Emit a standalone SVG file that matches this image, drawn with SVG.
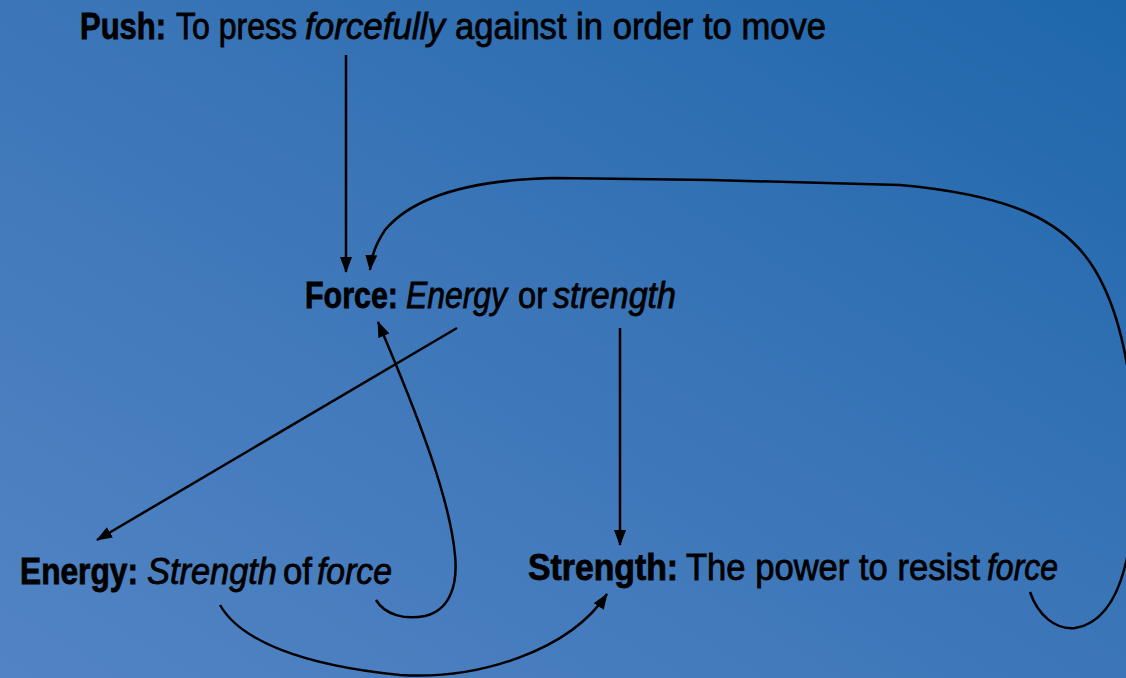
<svg xmlns="http://www.w3.org/2000/svg" width="1126" height="678" viewBox="0 0 1126 678">
<defs>
<linearGradient id="bg" x1="0" y1="1" x2="1" y2="0">
<stop offset="0" stop-color="#5284c4"/>
<stop offset="0.5" stop-color="#3c76b8"/>
<stop offset="1" stop-color="#1e67ab"/>
</linearGradient>
<marker id="arr" markerUnits="userSpaceOnUse" markerWidth="18" markerHeight="14" refX="15" refY="7" orient="auto">
<path d="M0,1 L16,7 L0,13 z" fill="#000"/>
</marker>
<style>
text{font-family:"Liberation Sans",Arial,sans-serif;font-size:36px;fill:#000;stroke:#000;stroke-width:0.8}
.b{font-weight:bold}
.i{font-style:italic}
.c path{fill:none;stroke:#000;stroke-width:2.5;marker-end:url(#arr)}
</style>
</defs>
<rect width="1126" height="678" fill="url(#bg)"/>
<g class="c" id="connectors">
<path d="M346,55 L346,272"/>
<path d="M1030,592 C1038,615 1055,630 1075,628 C1110,622 1130,580 1134,500 C1138,400 1125,320 1095,270 C1065,220 1010,195 900,185 L710,180 L555,178 C460,180 410,200 385,230 C375,245 371,258 370,270"/>
<path d="M457,328 L97,540"/>
<path d="M376,600 C385,615 405,620 425,616 C450,610 458,585 455,555 C450,500 420,420 378,322"/>
<path d="M220,605 C240,640 300,665 400,675 C480,680 570,650 607,594"/>
<path d="M620,328 L620,545"/>
</g>
<g id="push">
<text class="b" x="80" y="39" textLength="86" lengthAdjust="spacingAndGlyphs">Push:</text>
<text x="176" y="39" textLength="121" lengthAdjust="spacingAndGlyphs">To press</text>
<text class="i" x="305" y="39" textLength="140" lengthAdjust="spacingAndGlyphs">forcefully</text>
<text x="455" y="39" textLength="371" lengthAdjust="spacingAndGlyphs">against in order to move</text>
</g>
<g id="force">
<text class="b" x="305" y="308" textLength="93" lengthAdjust="spacingAndGlyphs">Force:</text>
<text class="i" x="406" y="308" textLength="101" lengthAdjust="spacingAndGlyphs">Energy</text>
<text x="518" y="308" textLength="29" lengthAdjust="spacingAndGlyphs">or</text>
<text class="i" x="553" y="308" textLength="123" lengthAdjust="spacingAndGlyphs">strength</text>
</g>
<g id="energy">
<text class="b" x="20" y="584" textLength="118" lengthAdjust="spacingAndGlyphs">Energy:</text>
<text class="i" x="147" y="584" textLength="130" lengthAdjust="spacingAndGlyphs">Strength</text>
<text x="283" y="584" textLength="29" lengthAdjust="spacingAndGlyphs">of</text>
<text class="i" x="317" y="584" textLength="75" lengthAdjust="spacingAndGlyphs">force</text>
</g>
<g id="strength">
<text class="b" x="528" y="580" textLength="150" lengthAdjust="spacingAndGlyphs">Strength:</text>
<text x="686" y="580" textLength="294" lengthAdjust="spacingAndGlyphs">The power to resist</text>
<text class="i" x="987" y="580" textLength="71" lengthAdjust="spacingAndGlyphs">force</text>
</g>
</svg>
